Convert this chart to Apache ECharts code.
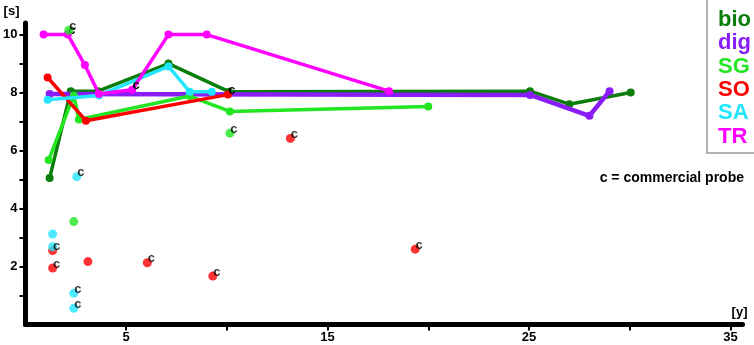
<!DOCTYPE html>
<html>
<head>
<meta charset="utf-8">
<title>response time vs age</title>
<script src="https://cdn.jsdelivr.net/npm/echarts@6.0.0/dist/echarts.min.js"></script>
<style>
  html, body { margin: 0; padding: 0; background: #fff; }
  #chart { width: 754px; height: 345px; }
</style>
</head>
<body>
<div id="chart"></div>
<script>
const FONT = '"Liberation Sans", Arial, sans-serif';

// axis ticks and labels
const xTicks = [5, 10, 15, 20, 25, 30, 35];
const xLabels = [5, 15, 25, 35];
const yTicks = [1, 2, 3, 4, 5, 6, 7, 8, 9, 10];
const yLabels = [2, 4, 6, 8, 10];

const names = ['bio', 'dig', 'SG', 'SO', 'SA', 'TR'];
const colors = ['#0b7d0b', '#8a1cf7', '#22e622', '#ff0000', '#22e5ff', '#ff00ff'];

// connected points (x = years, y = seconds), c flag = commercial probe
const bioX = [1.2, 2.25, 3.6, 7.1, 10.1, 25.05, 27.0, 30.05];
const bioY = [5.05, 8.05, 8.05, 9.0, 8.03, 8.05, 7.6, 8.0];

const digX = [1.2, 25.05, 28.0, 29.0];
const digY = [7.95, 7.92, 7.2, 8.05];

const sgX = [1.15, 2.4, 2.65, 8.15, 10.15, 20.0];
const sgY = [5.67, 7.9, 7.07, 7.88, 7.35, 7.52];

const soX = [1.1, 3.0, 10.05];
const soY = [8.52, 7.03, 7.93];
const soC = [0, 0, 1];

const saX = [1.1, 3.65, 7.1, 8.15, 9.25];
const saY = [7.75, 7.9, 8.9, 8.03, 8.03];

const trX = [0.9, 2.1, 2.95, 3.65, 5.3, 7.1, 9.0, 18.05];
const trY = [10, 10, 8.95, 7.95, 8.1, 10, 10, 8.05];
const trC = [0, 1, 0, 0, 1, 0, 0, 0];

// single measurements, not connected
const sgDotX = [2.15, 10.15, 2.4];
const sgDotY = [10.15, 6.6, 3.55];
const sgDotC = [1, 1, 0];

const soDotX = [1.35, 1.35, 3.1, 6.05, 9.3, 13.15, 19.35];
const soDotY = [2.55, 1.95, 2.17, 2.13, 1.67, 6.42, 2.6];
const soDotC = [1, 1, 0, 1, 1, 1, 1];

const saDotX = [2.55, 1.35, 1.35, 2.4, 2.4];
const saDotY = [5.1, 3.12, 2.68, 1.08, 0.56];
const saDotC = [1, 0, 0, 1, 1];

const toData = (xs, ys, cs) => xs.map((x, i) => ({
  value: [x, ys[i]],
  label: { show: !!(cs && cs[i]) }
}));

const cLabel = {
  show: false,
  formatter: 'c',
  position: 'inside',
  offset: [4, -4],
  color: '#000',
  fontWeight: 'bold',
  fontSize: 13,
  fontFamily: FONT
};

const lineSeries = (idx, xs, ys, cs) => ({
  name: names[idx],
  type: 'line',
  data: toData(xs, ys, cs),
  symbol: 'circle',
  symbolSize: 8,
  itemStyle: { color: colors[idx] },
  lineStyle: { color: colors[idx], width: idx === 1 ? 4.5 : 3.5 },
  label: cLabel,
  z: 2 + idx
});

const dotSeries = (idx, xs, ys, cs) => ({
  name: names[idx],
  type: 'scatter',
  data: toData(xs, ys, cs),
  symbol: 'circle',
  symbolSize: 9,
  itemStyle: { color: colors[idx] },
  label: cLabel,
  z: 10
});

const chart = echarts.init(document.getElementById('chart'));

chart.setOption({
  animation: false,
  backgroundColor: '#fff',
  grid: { left: 23.5, right: 11.5, top: 23, bottom: 20.5 },
  title: {
    text: 'c = commercial probe',
    right: 5,
    top: 166,
    textStyle: { fontSize: 14, fontWeight: 'bold', color: '#000', fontFamily: FONT }
  },
  legend: {
    orient: 'vertical',
    left: 708,
    top: 3,
    itemWidth: 0,
    itemHeight: 10,
    itemGap: 0,
    icon: 'none',
    selectedMode: false,
    textStyle: { fontSize: 22, fontWeight: 'bold', lineHeight: 23.4, fontFamily: FONT },
    data: names.map((n, i) => ({ name: n, icon: 'none', textStyle: { color: colors[i] } }))
  },
  graphic: [{
    type: 'rect',
    shape: { x: 707, y: -5, width: 60, height: 158 },
    style: { fill: 'none', stroke: '#b4b4b4', lineWidth: 2 },
    silent: true
  }],
  xAxis: {
    type: 'value',
    min: 0,
    max: 35.6,
    name: '[y]',
    nameLocation: 'end',
    nameGap: 5,
    nameTextStyle: {
      align: 'right', verticalAlign: 'bottom', padding: [0, 0, 6, 0],
      fontSize: 13, fontWeight: 'bold', color: '#000', fontFamily: FONT
    },
    splitLine: { show: false },
    axisLine: { lineStyle: { color: '#000', width: 5 } },
    axisTick: { customValues: xTicks, length: 6, lineStyle: { color: '#000', width: 2 } },
    axisLabel: {
      customValues: xLabels, margin: 6,
      fontSize: 13, fontWeight: 'bold', color: '#000', fontFamily: FONT
    }
  },
  yAxis: {
    type: 'value',
    min: 0,
    max: 10.4,
    name: '[s]',
    nameLocation: 'end',
    nameGap: 5,
    nameTextStyle: {
      align: 'right', padding: [0, 6, 0, 0],
      fontSize: 13, fontWeight: 'bold', color: '#000', fontFamily: FONT
    },
    splitLine: { show: false },
    axisLine: { show: true, lineStyle: { color: '#000', width: 5 } },
    axisTick: { show: true, customValues: yTicks, length: 6, lineStyle: { color: '#000', width: 2 } },
    axisLabel: {
      customValues: yLabels, margin: 8,
      fontSize: 13, fontWeight: 'bold', color: '#000', fontFamily: FONT
    }
  },
  series: [
    lineSeries(0, bioX, bioY),
    lineSeries(1, digX, digY),
    lineSeries(2, sgX, sgY),
    lineSeries(3, soX, soY, soC),
    lineSeries(4, saX, saY),
    lineSeries(5, trX, trY, trC),
    dotSeries(2, sgDotX, sgDotY, sgDotC),
    dotSeries(3, soDotX, soDotY, soDotC),
    dotSeries(4, saDotX, saDotY, saDotC)
  ]
});

window.addEventListener('resize', () => chart.resize());
</script>
</body>
</html>
